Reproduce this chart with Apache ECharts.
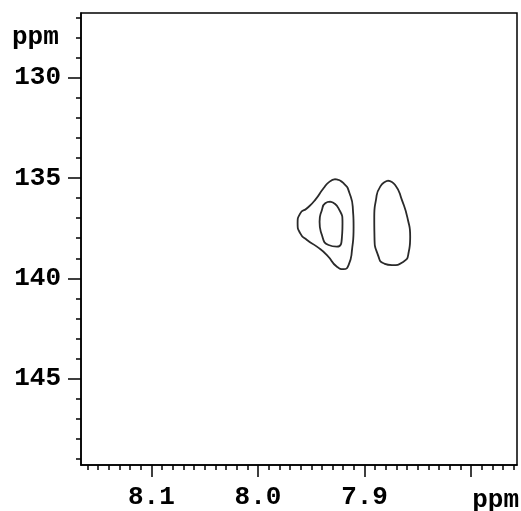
<!DOCTYPE html>
<html><head><meta charset="utf-8">
<script src="https://cdn.jsdelivr.net/npm/echarts@6/dist/echarts.min.js"></script>
<style>html,body{margin:0;padding:0;background:#fff}#c{width:521px;height:511px}</style>
</head><body><div id="c"></div>
<script>
// Axis ranges (ppm)
const xRange = [7.757, 8.166];
const yRange = [126.78, 149.3];
// Tick values / labels
const xMajorTicks = [8.1, 8.0, 7.9, 7.8];
const xMajorLabels = {'8.1':'8.1','8':'8.0','7.9':'7.9','7.8':''};
const xMinorTicks = [];
for (let i = 776; i <= 816; i++) xMinorTicks.push(i / 100);
const yMajorTicks = [130, 135, 140, 145];
const yMinorTicks = [127,128,129,130,131,132,133,134,135,136,137,138,139,140,141,142,143,144,145,146,147,148,149];
const axisUnit = 'ppm';

// Contour lines (x ppm, y ppm)
const contourLeftOuter = [
  [7.9275,135.06],[7.9197,135.26],[7.9141,135.76],[7.9109,136.59],[7.9103,137.43],
  [7.9118,138.59],[7.9150,139.34],[7.9197,139.54],[7.9259,139.42],[7.9353,138.84],
  [7.9447,138.42],[7.9540,138.09],[7.9603,137.76],[7.9628,137.26],[7.9603,136.76],
  [7.9540,136.51],[7.9463,136.09],[7.9385,135.51],[7.9328,135.18],[7.9275,135.06]
];
const contourLeftInner = [
  [7.9322,136.18],[7.9244,136.51],[7.9207,137.26],[7.9212,137.93],[7.9259,138.42],
  [7.9338,138.34],[7.9400,137.84],[7.9422,137.18],[7.9400,136.59],[7.9369,136.26],[7.9322,136.18]
];
const contourRight = [
  [7.8781,135.13],[7.8713,135.35],[7.8650,136.09],[7.8593,137.09],[7.8572,137.93],
  [7.8588,138.75],[7.8635,139.17],[7.8743,139.34],[7.8822,139.25],[7.8869,138.92],
  [7.8907,137.93],[7.8909,136.93],[7.8893,136.09],[7.8853,135.43],[7.8781,135.13]
];

const FONT = 'Liberation Mono';
const FS = 26;
const chart = echarts.init(document.getElementById('c'), null, {renderer:'canvas'});
const lineStyle = {color:'#000', width:1.5};
const mkX = (major) => ({
  type:'value', min:xRange[0], max:xRange[1], inverse:true, position:'bottom',
  splitLine:{show:false},
  axisLine:{show:major, onZero:false, lineStyle},
  axisTick:{show:true, length: major ? 12 : 5, lineStyle, customValues: major ? xMajorTicks : xMinorTicks},
  axisLabel:{show:major, margin:19, color:'#000', fontFamily:FONT, fontWeight:'bold', fontSize:FS,
    customValues: xMajorTicks, formatter: v => { const k = String(Math.round(v*10)/10); return xMajorLabels[k] !== undefined ? xMajorLabels[k] : ''; }}
});
const mkY = (major) => ({
  type:'value', min:yRange[0], max:yRange[1], inverse:true, position:'left',
  splitLine:{show:false},
  axisLine:{show:major, onZero:false, lineStyle},
  axisTick:{show:true, length: major ? 13 : 5, lineStyle, customValues: major ? yMajorTicks : yMinorTicks},
  axisLabel:{show:major, margin:20, color:'#000', fontFamily:FONT, fontWeight:'bold', fontSize:FS,
    customValues: yMajorTicks}
});
const contourSeries = (data) => ({
  type:'line', data, smooth:0.6, symbol:'none', xAxisIndex:0, yAxisIndex:0,
  lineStyle:{color:'#2a2a2a', width:1.8}, silent:true, animation:false
});
chart.setOption({
  animation:false,
  backgroundColor:'#fff',
  grid:{left:81, top:13, right:4, bottom:46, show:true, borderColor:'#000', borderWidth:1.5, backgroundColor:'transparent'},
  xAxis:[mkX(true), mkX(false)],
  yAxis:[mkY(true), mkY(false)],
  series:[contourSeries(contourLeftOuter), contourSeries(contourLeftInner), contourSeries(contourRight)],
  graphic:[
    {type:'text', right:2, top:487, style:{text:axisUnit, font:'bold '+FS+'px "'+FONT+'"', fill:'#000'}},
    {type:'text', left:12, top:24, style:{text:axisUnit, font:'bold '+FS+'px "'+FONT+'"', fill:'#000'}}
  ]
});
</script></body></html>
